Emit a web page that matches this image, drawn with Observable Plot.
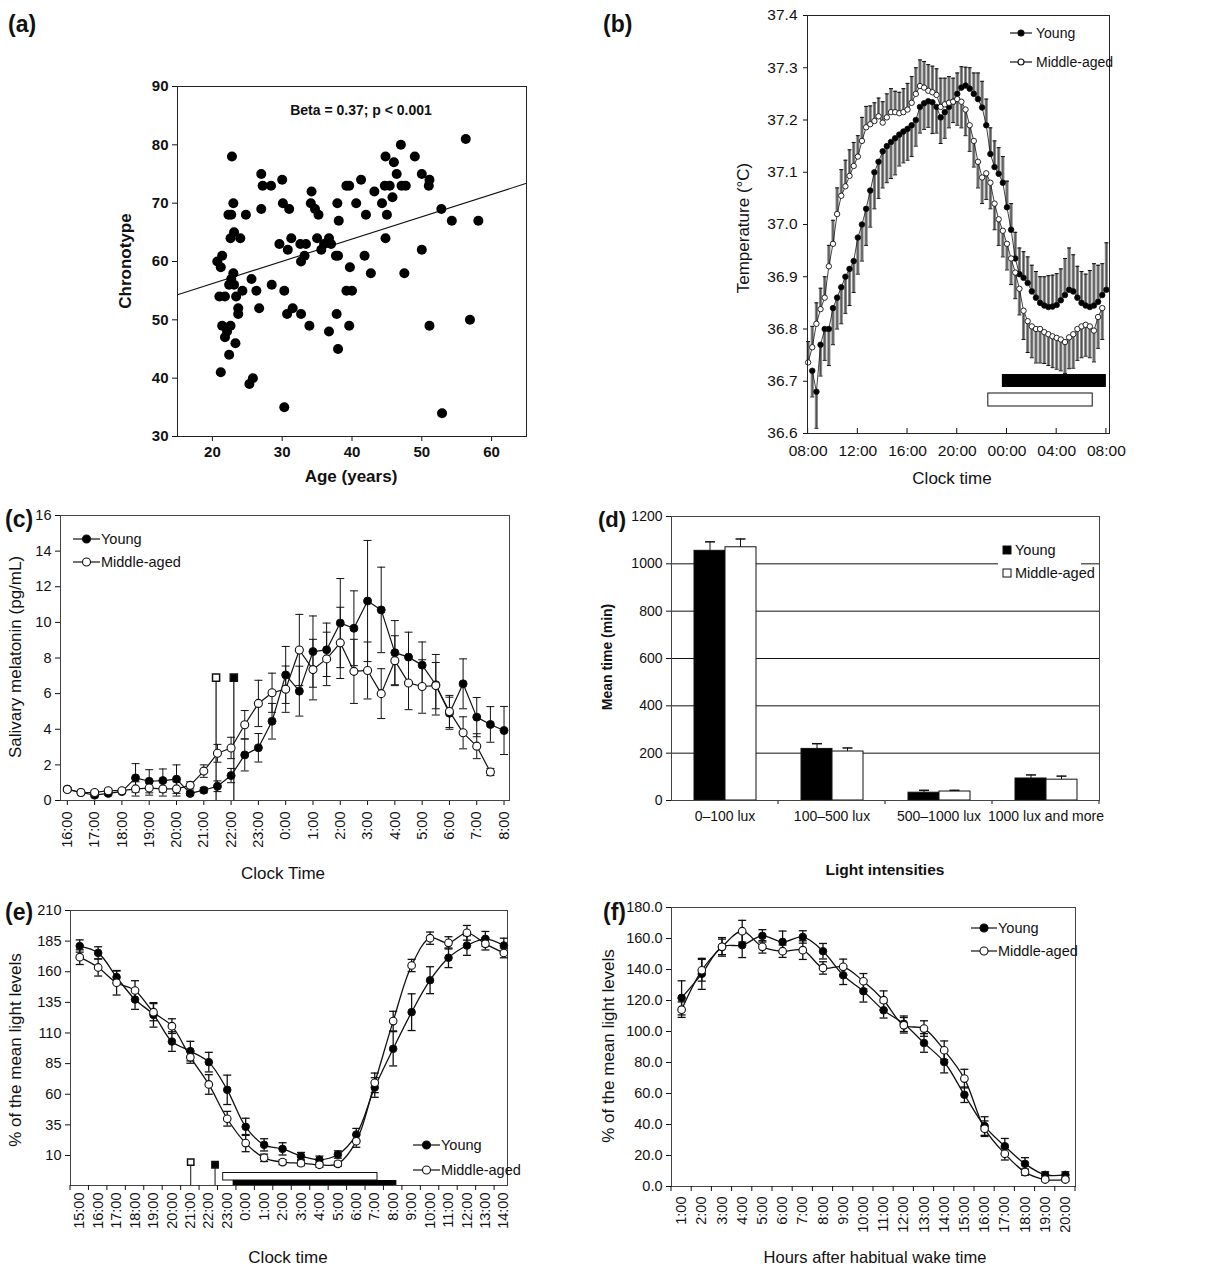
<!DOCTYPE html>
<html><head><meta charset="utf-8">
<script src="https://cdn.jsdelivr.net/npm/d3@7"></script>
<script src="https://cdn.jsdelivr.net/npm/@observablehq/plot@0.6"></script>
<style>
body{margin:0;background:#fff;}
#fig{position:relative;width:1211px;height:1268px;background:#fff;font-family:"Liberation Sans",Arial,Helvetica,sans-serif;}
</style></head><body><div id="fig"></div>
<script>
// ---------------- (a) chronotype vs age ----------------
const ageA = [
 20.7,21.2,21.4,21.0,21.8,21.4,21.8,21.2,22.8,22.3,
 22.7,23.0,22.6,23.1,24.0,23.0,22.7,23.1,22.4,23.4,
 23.7,23.7,24.3,24.8,22.6,22.1,22.4,23.3,25.3,25.8,
 25.6,26.3,26.7,27.0,27.2,28.4,27.0,28.5,29.6,30.0,
 30.1,31.0,30.8,31.3,30.3,30.7,31.5,30.3,32.6,33.4,
 32.7,33.2,32.7,33.9,34.2,34.1,34.7,35.2,35.0,35.6,
 36.0,36.7,37.0,36.7,37.9,38.1,37.7,38.0,37.8,38.0,
 39.2,39.6,39.7,39.2,40.0,39.6,40.6,41.3,42.0,41.8,
 42.7,43.2,44.3,44.7,45.4,44.8,45.0,44.8,45.8,46.0,
 46.4,47.0,47.1,47.7,47.5,49.0,50.0,50.0,51.1,51.0,
 51.1,52.8,52.9,54.3,56.3,56.9,58.1];
const chronoA = [
 60,59,61,54,54,49,47,41,78,68,
 68,70,64,65,64,58,57,56,56,54,
 52,51,55,68,49,48,44,46,39,40,
 57,55,52,75,73,73,69,56,63,74,
 70,69,62,64,55,51,52,35,63,63,
 60,61,51,49,72,70,69,68,64,62,
 63,64,63,48,70,67,61,61,51,45,
 73,73,59,55,55,49,70,74,68,61,
 58,72,70,73,73,78,68,64,71,77,
 75,80,73,73,58,78,75,62,74,73,
 49,69,34,67,81,50,67];
const fitAge = [15, 65];
const fitChrono = [54.3, 73.4];
const xTicksA = [20,30,40,50,60];
const yTicksA = [30,40,50,60,70,80,90];

// ---------------- (b) core body temperature ----------------
const tB = [
 0,0.333,0.667,1,1.333,1.667,2,2.333,2.667,3,3.333,3.667,
 4,4.333,4.667,5,5.333,5.667,6,6.333,6.667,7,7.333,7.667,
 8,8.333,8.667,9,9.333,9.667,10,10.333,10.667,11,11.333,11.667,
 12,12.333,12.667,13,13.333,13.667,14,14.333,14.667,15,15.333,15.667,
 16,16.333,16.667,17,17.333,17.667,18,18.333,18.667,19,19.333,19.667,
 20,20.333,20.667,21,21.333,21.667,22,22.333,22.667,23,23.333,23.667,
 24];
const youngB = [
 null,36.72,36.68,36.77,36.80,36.80,36.84,36.86,36.88,36.90,36.915,36.93,
 36.975,37.00,37.03,37.065,37.10,37.12,37.14,37.15,37.158,37.165,37.172,37.178,
 37.183,37.19,37.20,37.225,37.232,37.236,37.234,37.225,37.205,37.215,37.225,37.235,
 37.25,37.262,37.266,37.26,37.25,37.24,37.224,37.19,37.135,37.11,37.097,37.08,
 37.033,36.99,36.935,36.905,36.898,36.888,36.872,36.86,36.85,36.845,36.842,36.843,
 36.846,36.855,36.865,36.875,36.872,36.86,36.85,36.845,36.842,36.845,36.852,36.865,
 36.875];
const youngBErr = [
 null,0.05,0.07,0.06,0.06,0.07,0.07,0.06,0.07,0.07,0.07,0.06,
 0.07,0.07,0.07,0.07,0.07,0.07,0.07,0.07,0.07,0.07,0.06,0.06,
 0.06,0.06,0.05,0.05,0.05,0.05,0.06,0.05,0.05,0.05,0.04,0.04,
 0.04,0.04,0.035,0.04,0.04,0.05,0.05,0.05,0.05,0.05,0.05,0.05,
 0.05,0.05,0.05,0.05,0.05,0.05,0.05,0.05,0.05,0.055,0.06,0.06,
 0.06,0.06,0.07,0.08,0.07,0.06,0.06,0.06,0.07,0.08,0.07,0.06,
 0.09];
const middleB = [
 36.736,36.765,36.81,36.838,36.86,36.92,36.963,37.02,37.055,37.073,37.093,37.112,
 37.13,37.16,37.186,37.192,37.198,37.207,37.195,37.205,37.215,37.215,37.213,37.215,
 37.22,37.233,37.25,37.265,37.262,37.256,37.253,37.248,37.225,37.23,37.233,37.235,
 37.24,37.235,37.22,37.19,37.16,37.12,37.09,37.098,37.08,37.04,37.01,36.988,
 36.963,36.935,36.908,36.877,36.835,36.815,36.805,36.80,36.80,36.794,36.79,36.786,
 36.783,36.78,36.775,36.784,36.79,36.80,36.805,36.808,36.805,36.797,36.823,36.84,
 null];
const middleBErr = [
 0.04,0.04,0.04,0.04,0.04,0.04,0.045,0.05,0.05,0.05,0.05,0.045,
 0.04,0.045,0.04,0.035,0.035,0.035,0.04,0.045,0.045,0.04,0.04,0.045,
 0.05,0.05,0.05,0.05,0.05,0.05,0.05,0.05,0.055,0.05,0.05,0.045,
 0.05,0.05,0.05,0.05,0.05,0.05,0.05,0.05,0.05,0.05,0.05,0.05,
 0.05,0.05,0.05,0.05,0.055,0.06,0.06,0.065,0.065,0.06,0.06,0.06,
 0.06,0.06,0.06,0.06,0.065,0.06,0.06,0.06,0.06,0.06,0.06,0.06,
 null];
const tickB = [0,4,8,12,16,20,24];
const labelsB = ["08:00","12:00","16:00","20:00","00:00","04:00","08:00"];
const yTicksB = [36.6,36.7,36.8,36.9,37.0,37.1,37.2,37.3,37.4];
const sleepGroupB = ["Young","Middle-aged"];
const sleepStartB = [15.63, 14.5];
const sleepEndB = [24.0, 22.9];

// ---------------- (c) salivary melatonin ----------------
const tC = [0,0.5,1,1.5,2,2.5,3,3.5,4,4.5,5,5.5,6,6.5,7,7.5,8,8.5,9,9.5,10,10.5,11,11.5,12,12.5,13,13.5,14,14.5,15,15.5,16];
const youngC = [0.64,0.45,0.3,0.4,0.5,1.27,1.08,1.12,1.2,0.4,0.58,0.8,1.4,2.56,2.96,4.45,7.05,6.14,8.36,8.46,9.96,9.67,11.2,10.7,8.3,8.05,7.6,6.5,4.9,6.55,4.68,4.27,3.93];
const youngCErr = [0.1,0.1,0.1,0.1,0.1,0.8,0.65,0.65,0.8,0.1,0.15,0.3,0.4,0.9,0.8,1.0,1.6,1.4,2.0,1.5,2.5,2.1,3.4,2.4,1.8,1.4,1.3,1.7,0.9,1.4,1.1,1.0,1.35];
const middleC = [0.62,0.45,0.45,0.55,0.55,0.65,0.7,0.65,0.65,0.85,1.65,2.65,2.95,4.25,5.45,6.05,6.25,8.45,7.35,7.95,8.85,7.25,7.3,6.0,7.85,6.6,6.4,6.45,5.0,3.8,3.05,1.6,null];
const middleCErr = [0.1,0.1,0.1,0.1,0.1,0.4,0.4,0.4,0.4,0.2,0.35,0.5,0.6,0.8,1.3,1.1,1.3,2.0,1.7,1.5,2.0,1.8,1.6,1.4,1.4,1.5,1.5,1.3,0.9,0.9,0.7,0.2,null];
const tickC = [0,1,2,3,4,5,6,7,8,9,10,11,12,13,14,15,16];
const labelsC = ["16:00","17:00","18:00","19:00","20:00","21:00","22:00","23:00","0:00","1:00","2:00","3:00","4:00","5:00","6:00","7:00","8:00"];
const yDomainC = [0, 16];
const yTicksC = [0,2,4,6,8,10,12,14,16];
const onsetGroupC = ["Middle-aged","Young"];
const onsetTimeC = [5.45, 6.1];
const onsetLevelC = [6.9, 6.9];

// ---------------- (d) light exposure ----------------
const catsD = ["0\u2013100 lux","100\u2013500 lux","500\u20131000 lux","1000 lux and more"];
const youngD = [1055, 218, 33, 93];
const youngDErr = [38, 22, 10, 15];
const middleD = [1070, 207, 38, 88];
const middleDErr = [35, 15, 5, 15];
const yTicksD = [0,200,400,600,800,1000,1200];
const gridD = [200,400,600,800,1000];

// ---------------- (e) light by clock time ----------------
const tE = [0,1,2,3,4,5,6,7,8,9,10,11,12,13,14,15,16,17,18,19,20,21,22,23];
const labelsE = ["15:00","16:00","17:00","18:00","19:00","20:00","21:00","22:00","23:00","0:00","1:00","2:00","3:00","4:00","5:00","6:00","7:00","8:00","9:00","10:00","11:00","12:00","13:00","14:00"];
const youngE = [181,175.4,155.6,137.3,124.8,103,95.2,86.2,63.6,33.4,18.7,15.4,9.5,6.5,10.8,27.1,65.5,97.1,127,153.1,171.4,181.4,186.9,181.4];
const youngEErr = [5,5,5,8,10,8,8,8,12,7,5,5,3,3,3,5,8,14,15,11,8,8,6,6];
const middleE = [171.9,163.5,151,144.7,127,115.6,90.3,68,40,20.1,8.1,4.6,3.7,2.4,3.2,21.7,69.3,119.7,165.1,187.4,183.6,191.8,182.8,175.4];
const middleEErr = [6,7,10,8,7,6,5,8,6,7,3,2,2,2,2,5,8,8,5,5,5,6,5,4];
const halfTicksE = [-0.5,0.5,1.5,2.5,3.5,4.5,5.5,6.5,7.5,8.5,9.5,10.5,11.5,12.5,13.5,14.5,15.5,16.5,17.5,18.5,19.5,20.5,21.5,22.5];
const yDomainE = [-14.5, 210];
const yTicksE = [10,35,60,85,110,135,160,185,210];
const sleepGroupE = ["Young","Middle-aged"];
const sleepStartE = [8.32, 7.78];
const sleepEndE = [17.2, 16.15];
const onsetGroupE = ["Middle-aged","Young"];
const onsetTimeE = [6.02, 7.34];
const onsetLevelE = [4.6, 2.4];

// ---------------- (f) light by hours after wake ----------------
const tF = [1,2,3,4,5,6,7,8,9,10,11,12,13,14,15,16,17,18,19,20];
const labelsF = ["1:00","2:00","3:00","4:00","5:00","6:00","7:00","8:00","9:00","10:00","11:00","12:00","13:00","14:00","15:00","16:00","17:00","18:00","19:00","20:00"];
const youngF = [121.7,137.2,154.6,155.7,161.7,157.8,161,151.8,136.3,126,113.7,105,92.6,80.3,59.2,39,26,14.6,7.5,7.5];
const youngFErr = [11,10,6,8,4,7,4,5,6,7,5,5,6,7,5,6,5,4,2,2];
const middleF = [114.1,139.5,154.6,164.7,154.6,151.8,152.5,141,141.7,132.4,120.2,104,101.9,87.9,69.6,37.3,21.1,9.3,4.5,4.5];
const middleFErr = [5,7,5,7,4,4,6,4,5,5,6,5,5,6,6,5,4,2,1,1];
const halfTicksF = [0.5,1.5,2.5,3.5,4.5,5.5,6.5,7.5,8.5,9.5,10.5,11.5,12.5,13.5,14.5,15.5,16.5,17.5,18.5,19.5,20.5];
const yTicksF = [0,20,40,60,80,100,120,140,160,180];

// ---------------- checks ----------------
function same(name, ...arrs){ const n = arrs[0].length; arrs.forEach(a=>{ if(a.length!==n) throw new Error(name+" length mismatch "+arrs.map(x=>x.length).join(",")); }); }
same("A", ageA, chronoA);
same("B", tB, youngB, youngBErr, middleB, middleBErr);
same("C", tC, youngC, youngCErr, middleC, middleCErr);
same("E", tE, labelsE, youngE, youngEErr, middleE, middleEErr);
same("F", tF, labelsF, youngF, youngFErr, middleF, middleFErr);

// ---------------- helpers ----------------
const FONT = "'Liberation Sans', Arial, Helvetica, sans-serif";
const INK = "#111";
const fig = document.getElementById("fig");
function place(svg, left, top){ svg.style.position="absolute"; svg.style.left=left+"px"; svg.style.top=top+"px"; fig.appendChild(svg); }
function baseStyle(extra){ return Object.assign({fontFamily:FONT, fontSize:"14.5px", color:INK, background:"transparent", overflow:"visible"}, extra||{}); }
function note(str, x, y, o={}){
  const {size=17, weight="normal", rotate=0, anchor="middle"} = o;
  return () => d3.create("svg:text")
    .attr("transform", `translate(${x},${y})` + (rotate ? ` rotate(${rotate})` : ""))
    .attr("text-anchor", anchor).attr("dy","0.35em")
    .attr("font-size", size).attr("font-weight", weight).attr("fill", INK)
    .text(str).node();
}
const capSymbol = { draw(ctx, size){ const w = Math.sqrt(size/Math.PI); ctx.moveTo(-w,0); ctx.lineTo(w,0); } };
function tickMarks(values, len){
  return (index, scales, vals, dims) => {
    const g = d3.create("svg:g").attr("stroke", INK).attr("stroke-width", 1);
    const yb = dims.height - dims.marginBottom;
    for (const v of values){ const x = scales.x(v); g.append("line").attr("x1",x).attr("x2",x).attr("y1",yb).attr("y2",yb+len); }
    return g.node();
  };
}
function lineLegend(items, {x0, y0, gap, len, r, textGap=2, size=14.5}){
  return (index, scales, vals, dims) => {
    const g = d3.create("svg:g").attr("font-size", size).attr("text-anchor","start");
    items.forEach((it,k) => {
      const X = dims.marginLeft + x0, Y = dims.marginTop + y0 + k*gap;
      g.append("line").attr("x1",X).attr("x2",X+len).attr("y1",Y).attr("y2",Y).attr("stroke",INK).attr("stroke-width",1.2);
      g.append("circle").attr("cx",X+len/2).attr("cy",Y).attr("r",r).attr("fill",it.fill).attr("stroke",INK).attr("stroke-width",1.1);
      g.append("text").attr("x",X+len+textGap).attr("y",Y).attr("dy","0.35em").attr("text-anchor","start").attr("fill",INK).text(it.name);
    });
    return g.node();
  };
}
const legendItems = [{name:"Young", fill:"#000"}, {name:"Middle-aged", fill:"#fff"}];

function errorMarks(rows, {capR, sw=1}){
  const y = rows.filter(d=>d.young!=null), m = rows.filter(d=>d.mid!=null);
  return [
    Plot.ruleX(y, {x:"t", y1:d=>d.young-d.yErr, y2:d=>d.young+d.yErr, stroke:INK, strokeWidth:sw}),
    Plot.ruleX(m, {x:"t", y1:d=>d.mid-d.mErr, y2:d=>d.mid+d.mErr, stroke:INK, strokeWidth:sw}),
    Plot.dot(y, {x:"t", y:d=>d.young-d.yErr, symbol:capSymbol, r:capR, stroke:INK, fill:"none", strokeWidth:sw}),
    Plot.dot(y, {x:"t", y:d=>d.young+d.yErr, symbol:capSymbol, r:capR, stroke:INK, fill:"none", strokeWidth:sw}),
    Plot.dot(m, {x:"t", y:d=>d.mid-d.mErr, symbol:capSymbol, r:capR, stroke:INK, fill:"none", strokeWidth:sw}),
    Plot.dot(m, {x:"t", y:d=>d.mid+d.mErr, symbol:capSymbol, r:capR, stroke:INK, fill:"none", strokeWidth:sw})
  ];
}
function seriesMarks(rows, {r, curve="linear", sw=1.2}){
  return [
    Plot.line(rows, {x:"t", y:"young", stroke:INK, strokeWidth:sw, curve}),
    Plot.line(rows, {x:"t", y:"mid", stroke:INK, strokeWidth:sw, curve}),
    Plot.dot(rows.filter(d=>d.young!=null), {x:"t", y:"young", r, fill:"#000", stroke:INK, strokeWidth:1}),
    Plot.dot(rows.filter(d=>d.mid!=null), {x:"t", y:"mid", r, fill:"#fff", stroke:INK, strokeWidth:1.1})
  ];
}

// ================= (a) =================
const ptsA = ageA.map((a,i)=>({age:a, chrono:chronoA[i]}));
const fitA = fitAge.map((a,i)=>({age:a, chrono:fitChrono[i]}));
place(Plot.plot({
  width:590, height:495, marginLeft:177, marginRight:64, marginTop:86, marginBottom:59,
  style: baseStyle({fontSize:"15px", fontWeight:"bold"}),
  x:{domain:[15,65], ticks:xTicksA, tickSize:5, tickPadding:5, label:null},
  y:{domain:[30,90], ticks:yTicksA, tickSize:5, tickPadding:4, label:null},
  marks:[
    Plot.frame({stroke:"#222"}),
    Plot.line(fitA, {x:"age", y:"chrono", stroke:INK, strokeWidth:1.1}),
    Plot.dot(ptsA, {x:"age", y:"chrono", r:5, fill:"#000"}),
    note("Beta = 0.37; p < 0.001", 361, 110, {size:14, weight:"bold"}),
    note("Chronotype", 125, 261, {size:17, weight:"bold", rotate:-90}),
    note("Age (years)", 351, 476, {size:17, weight:"bold"}),
    note("(a)", 8, 24, {size:23, weight:"bold", anchor:"start"})
  ]
}), 0, 0);

// ================= (b) =================
const rowsB = tB.map((t,i)=>({t, young:youngB[i], yErr:youngBErr[i], mid:middleB[i], mErr:middleBErr[i]}));
let lastDir = -1;
rowsB.forEach(r => { if (r.young!=null && r.mid!=null) lastDir = r.young > r.mid ? 1 : -1; r.dir = lastDir; });
const yB = rowsB.filter(d=>d.young!=null), mB = rowsB.filter(d=>d.mid!=null);
const sleepB = sleepGroupB.map((g,i)=>({group:g, start:sleepStartB[i], end:sleepEndB[i]}));
place(Plot.plot({
  width:621, height:495, marginLeft:217, marginRight:102, marginTop:15, marginBottom:62,
  style: baseStyle({fontSize:"15.5px"}),
  x:{domain:[-0.05,24.25], ticks:tickB, tickFormat:d=>labelsB[tickB.indexOf(d)], tickSize:0, tickPadding:11, label:null},
  y:{domain:[36.6,37.4], ticks:yTicksB, tickFormat:d3.format(".1f"), tickSize:4, tickPadding:6, label:null},
  marks:[
    Plot.ruleX(yB, {x:"t", y1:"young", y2:d=>d.young+d.dir*d.yErr, stroke:"#8a8a8a", strokeWidth:3.2}),
    Plot.ruleX(mB, {x:"t", y1:"mid", y2:d=>d.mid-d.dir*d.mErr, stroke:"#8a8a8a", strokeWidth:3.2}),
    Plot.ruleX(yB, {x:"t", y1:"young", y2:d=>d.young+d.dir*d.yErr, stroke:"#333", strokeWidth:0.7}),
    Plot.ruleX(mB, {x:"t", y1:"mid", y2:d=>d.mid-d.dir*d.mErr, stroke:"#333", strokeWidth:0.7}),
    Plot.dot(yB, {x:"t", y:d=>d.young+d.dir*d.yErr, symbol:capSymbol, r:2, stroke:INK, fill:"none", strokeWidth:1}),
    Plot.dot(mB, {x:"t", y:d=>d.mid-d.dir*d.mErr, symbol:capSymbol, r:2, stroke:INK, fill:"none", strokeWidth:1}),
    Plot.line(rowsB, {x:"t", y:"young", stroke:INK, strokeWidth:0.8}),
    Plot.line(rowsB, {x:"t", y:"mid", stroke:INK, strokeWidth:0.8}),
    Plot.dot(yB, {x:"t", y:"young", r:2.8, fill:"#000", stroke:INK, strokeWidth:0.8}),
    Plot.dot(mB, {x:"t", y:"mid", r:2.7, fill:"#fff", stroke:INK, strokeWidth:0.9}),
    Plot.rect(sleepB.filter(d=>d.group==="Young"), {x1:"start", x2:"end", insetTop:359, insetBottom:46, fill:"#000"}),
    Plot.rect(sleepB.filter(d=>d.group==="Middle-aged"), {x1:"start", x2:"end", insetTop:378, insetBottom:27, fill:"#fff", stroke:INK}),
    tickMarks(tickB, -5),
    Plot.frame({stroke:"#222"}),
    lineLegend(legendItems, {x0:203, y0:18, gap:29, len:22, r:3, textGap:4, size:14}),
    note("Temperature (\u00B0C)", 153, 228, {size:17, rotate:-90}),
    note("Clock time", 362, 478, {size:17}),
    note("(b)", 13, 24, {size:23, weight:"bold", anchor:"start"})
  ]
}), 590, 0);

// ================= (c) =================
const rowsC = tC.map((t,i)=>({t, young:youngC[i], yErr:youngCErr[i], mid:middleC[i], mErr:middleCErr[i]}));
const onsetC = onsetGroupC.map((g,i)=>({group:g, t:onsetTimeC[i], level:onsetLevelC[i]}));
place(Plot.plot({
  width:590, height:400, marginLeft:60, marginRight:81, marginTop:20, marginBottom:95,
  style: baseStyle({fontSize:"14.5px"}),
  x:{domain:[-0.25,16.2], ticks:tickC, tickFormat:d=>labelsC[tickC.indexOf(d)], tickRotate:-90, tickSize:5, tickPadding:6, label:null},
  y:{domain:yDomainC, ticks:yTicksC, tickSize:5, tickPadding:4, label:null},
  marks:[
    Plot.frame({stroke:"#444"}),
    ...errorMarks(rowsC, {capR:4}),
    Plot.ruleX(onsetC, {x:"t", y1:"level", y2:()=>yDomainC[0], stroke:INK, strokeWidth:1.2}),
    Plot.dot(onsetC.filter(d=>d.group==="Young"), {x:"t", y:"level", symbol:"square", r:4, fill:"#000", stroke:INK}),
    Plot.dot(onsetC.filter(d=>d.group==="Middle-aged"), {x:"t", y:"level", symbol:"square", r:4, fill:"#fff", stroke:INK}),
    ...seriesMarks(rowsC, {r:4}),
    lineLegend(legendItems, {x0:13, y0:24, gap:23, len:27, r:4, textGap:1}),
    note("Salivary melatonin (pg/mL)", 15, 162, {size:17, rotate:-90}),
    note("Clock Time", 283, 378, {size:17}),
    note("(c)", 5, 24, {size:23, weight:"bold", anchor:"start"})
  ]
}), 0, 495);

// ================= (d) =================
const rowsD = catsD.map((c,i)=>({cat:c, young:youngD[i], yErr:youngDErr[i], mid:middleD[i], mErr:middleDErr[i]}));
function bandSeparators(len){
  return (index, scales, vals, dims) => {
    const g = d3.create("svg:g").attr("stroke", INK);
    const yb = dims.height - dims.marginBottom;
    const bw = scales.x.bandwidth ? scales.x.bandwidth() : (dims.width-dims.marginLeft-dims.marginRight)/catsD.length;
    catsD.forEach((c,i) => { if (i===0) return; const x = scales.x(c); g.append("line").attr("x1",x).attr("x2",x).attr("y1",yb).attr("y2",yb+len); });
    const xe = scales.x(catsD[catsD.length-1]) + bw;
    g.append("line").attr("x1",xe).attr("x2",xe).attr("y1",yb).attr("y2",yb+len);
    return g.node();
  };
}
function boxLegend(items, {x0, y0, gap, box, size=14.5}){
  return (index, scales, vals, dims) => {
    const g = d3.create("svg:g").attr("font-size", size).attr("text-anchor","start");
    const X = dims.marginLeft + x0, Y = dims.marginTop + y0;
    g.append("rect").attr("x", X-5).attr("y", Y-12).attr("width", 83).attr("height", gap*items.length+3).attr("fill","#fff");
    items.forEach((it,k) => {
      const yy = Y + k*gap;
      g.append("rect").attr("x",X).attr("y",yy-box/2).attr("width",box).attr("height",box).attr("fill",it.fill).attr("stroke",INK);
      g.append("text").attr("x",X+box+4).attr("y",yy).attr("dy","0.35em").attr("text-anchor","start").attr("fill",INK).text(it.name);
    });
    return g.node();
  };
}
place(Plot.plot({
  width:621, height:400, marginLeft:81, marginRight:112, marginTop:21, marginBottom:95,
  style: baseStyle({fontSize:"14px"}),
  x:{domain:catsD, padding:0, tickSize:0, tickPadding:11, label:null},
  y:{domain:[0,1200], ticks:yTicksD, tickFormat:d3.format("d"), tickSize:5, tickPadding:4, label:null},
  marks:[
    Plot.ruleY(gridD, {stroke:INK, strokeWidth:1}),
    Plot.barY(rowsD, {x:"cat", y:"young", fill:"#000", stroke:INK, insetLeft:23, insetRight:53}),
    Plot.barY(rowsD, {x:"cat", y:"mid", fill:"#fff", stroke:INK, insetLeft:54, insetRight:22}),
    Plot.ruleX(rowsD, {x:"cat", y1:"young", y2:d=>d.young+d.yErr, dx:-15, stroke:INK}),
    Plot.dot(rowsD, {x:"cat", y:d=>d.young+d.yErr, dx:-15, symbol:capSymbol, r:5, stroke:INK, fill:"none"}),
    Plot.ruleX(rowsD, {x:"cat", y1:"mid", y2:d=>d.mid+d.mErr, dx:15.5, stroke:INK}),
    Plot.dot(rowsD, {x:"cat", y:d=>d.mid+d.mErr, dx:15.5, symbol:capSymbol, r:5, stroke:INK, fill:"none"}),
    bandSeparators(4),
    Plot.frame({stroke:"#444"}),
    boxLegend([{name:"Young", fill:"#000"}, {name:"Middle-aged", fill:"#fff"}], {x0:332, y0:34, gap:23, box:8}),
    note("Mean time (min)", 17, 162, {size:14, weight:"bold", rotate:-90}),
    note("Light intensities", 295, 375, {size:15.5, weight:"bold"}),
    note("(d)", 8, 24, {size:22, weight:"bold", anchor:"start"})
  ]
}), 590, 495);

// ================= (e) =================
const rowsE = tE.map((t,i)=>({t, young:youngE[i], yErr:youngEErr[i], mid:middleE[i], mErr:middleEErr[i]}));
const sleepE = sleepGroupE.map((g,i)=>({group:g, start:sleepStartE[i], end:sleepEndE[i]}));
const onsetE = onsetGroupE.map((g,i)=>({group:g, t:onsetTimeE[i], level:onsetLevelE[i]}));
place(Plot.plot({
  width:590, height:373, marginLeft:70, marginRight:83, marginTop:15, marginBottom:83,
  style: baseStyle({fontSize:"14.5px"}),
  x:{domain:[-0.5,23.2], ticks:tE, tickFormat:d=>labelsE[tE.indexOf(d)], tickRotate:-90, tickSize:0, tickPadding:7, label:null},
  y:{domain:yDomainE, ticks:yTicksE, tickSize:5, tickPadding:4, label:null},
  marks:[
    Plot.frame({stroke:"#444"}),
    Plot.rect(sleepE.filter(d=>d.group==="Young"), {x1:"start", x2:"end", insetTop:270, insetBottom:0, fill:"#000"}),
    Plot.rect(sleepE.filter(d=>d.group==="Middle-aged"), {x1:"start", x2:"end", insetTop:262.5, insetBottom:5, fill:"#fff", stroke:INK}),
    Plot.ruleX(onsetE, {x:"t", y1:"level", y2:()=>yDomainE[0], stroke:INK, strokeWidth:1}),
    Plot.dot(onsetE.filter(d=>d.group==="Young"), {x:"t", y:"level", symbol:"square", r:3.6, fill:"#000", stroke:INK}),
    Plot.dot(onsetE.filter(d=>d.group==="Middle-aged"), {x:"t", y:"level", symbol:"square", r:3.6, fill:"#fff", stroke:INK}),
    ...errorMarks(rowsE, {capR:4, sw:1.3}),
    ...seriesMarks(rowsE, {r:3.8, curve:"catmull-rom", sw:1.3}),
    tickMarks(halfTicksE, 5),
    lineLegend(legendItems, {x0:343, y0:235, gap:25, len:27, r:4, textGap:1}),
    note("% of the mean light levels", 15, 155, {size:17, rotate:-90}),
    note("Clock time", 288, 362, {size:17}),
    note("(e)", 5, 17, {size:23, weight:"bold", anchor:"start"})
  ]
}), 0, 895);

// ================= (f) =================
const rowsF = tF.map((t,i)=>({t, young:youngF[i], yErr:youngFErr[i], mid:middleF[i], mErr:middleFErr[i]}));
place(Plot.plot({
  width:621, height:373, marginLeft:81, marginRight:136, marginTop:12, marginBottom:82,
  style: baseStyle({fontSize:"14.5px"}),
  x:{domain:[0.5,20.5], ticks:tF, tickFormat:d=>labelsF[tF.indexOf(d)], tickRotate:-90, tickSize:0, tickPadding:10, label:null},
  y:{domain:[0,180], ticks:yTicksF, tickFormat:d3.format(".1f"), tickSize:5, tickPadding:4, label:null},
  marks:[
    Plot.frame({stroke:"#444"}),
    ...errorMarks(rowsF, {capR:4, sw:1.3}),
    ...seriesMarks(rowsF, {r:3.8, curve:"catmull-rom", sw:1.3}),
    tickMarks(halfTicksF, 5),
    lineLegend(legendItems, {x0:300, y0:21, gap:23, len:26, r:4, textGap:1}),
    note("% of the mean light levels", 18, 151, {size:17, rotate:-90}),
    note("Hours after habitual wake time", 285, 362, {size:16.5}),
    note("(f)", 13, 17, {size:23, weight:"bold", anchor:"start"})
  ]
}), 590, 895);
</script></body></html>
